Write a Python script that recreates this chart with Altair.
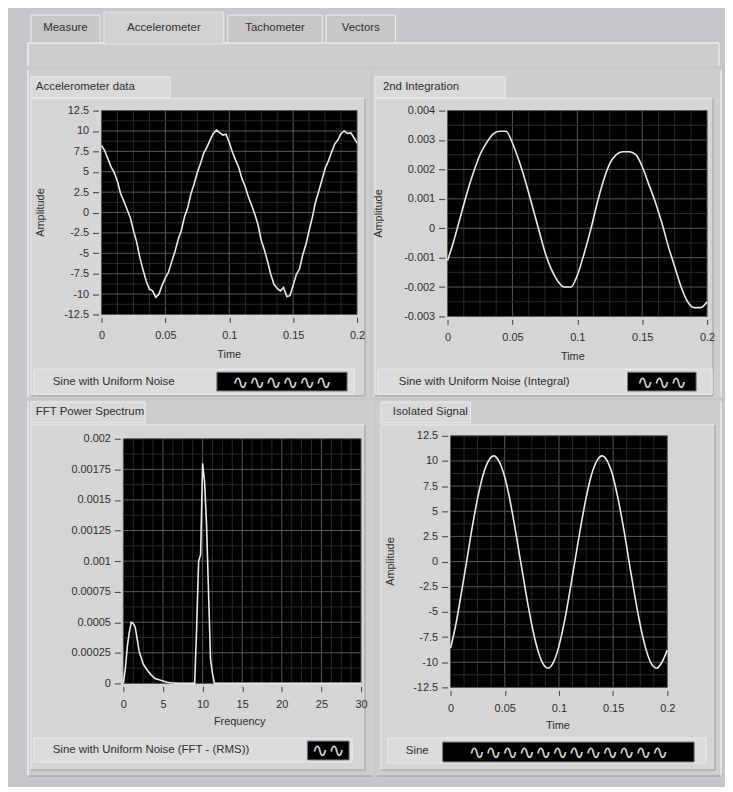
import altair as alt
import pandas as pd

# ------------------------------------------------------------------ data
tab_names = ["Measure", "Accelerometer", "Tachometer", "Vectors"]
selected_tab = "Accelerometer"

panel_titles = ["Accelerometer data", "2nd  Integration", "FFT Power Spectrum", "Isolated Signal"]
legend_names = ["Sine with Uniform Noise", "Sine with Uniform Noise (Integral)",
                "Sine with Uniform Noise (FFT - (RMS))", "Sine"]
x_titles = ["Time", "Time", "Frequency", "Time"]
y_titles = ["Amplitude", "Amplitude", "", "Amplitude"]

accel_time = [round(i * 0.0025, 4) for i in range(81)]
accel_amp = [8.2, 7.6, 6.6, 5.6, 4.9, 3.8, 2.3, 1.4, 0.4, -0.6,
             -2.2, -3.6, -5.5, -7.0, -8.4, -9.4, -9.6, -10.4, -10.0, -8.9,
             -8.0, -7.3, -6.0, -4.8, -3.3, -2.2, -0.5, 0.6, 2.3, 3.5,
             4.9, 6.0, 7.3, 8.0, 8.9, 9.7, 10.1, 9.8, 9.5, 9.6,
             8.6, 7.4, 6.4, 5.5, 4.1, 3.2, 1.9, 0.9, -0.2, -1.5,
             -3.4, -4.6, -6.0, -7.6, -8.8, -9.3, -9.6, -9.2, -10.3, -10.2,
             -8.9, -7.6, -6.9, -5.2, -3.9, -2.2, -0.6, 1.3, 2.6, 4.0,
             5.4, 6.3, 7.4, 8.4, 8.9, 9.7, 10.0, 9.7, 9.8, 9.2, 8.5]

integ_time = [round(i * 0.005, 4) for i in range(41)]
integ_amp = [-0.0011, -0.0004, 0.0004, 0.0012, 0.0019, 0.0025, 0.0029, 0.0032, 0.0033, 0.0033,
             0.0029, 0.0023, 0.0016, 0.0008, 0.0000, -0.0008, -0.0014, -0.0018, -0.0020, -0.0020,
             -0.0016, -0.0009, -0.0001, 0.0008, 0.0016, 0.0022, 0.0025, 0.0026, 0.0026, 0.0025,
             0.0021, 0.0015, 0.0009, 0.0002, -0.0006, -0.0013, -0.0020, -0.0025, -0.0027, -0.0027,
             -0.0025]

fft_freq = [0, 0.25, 0.5, 0.75, 1.0, 1.25, 1.5, 1.75, 2.0, 2.5, 3.0, 3.5, 4.0, 4.5, 5.0, 5.5, 6.0,
            7, 8, 9.0, 9.25, 9.5, 9.75, 10.0, 10.25, 10.5, 10.75, 11.0, 11.25, 11.5, 12, 15, 20, 25, 30]
fft_power = [0, 0.00012, 0.00030, 0.00042, 0.00050, 0.00049, 0.00046, 0.00036, 0.00026, 0.00016,
             0.00011, 0.00007, 0.00004, 0.00003, 0.00002, 0.00001, 0.000005, 0, 0, 0,
             0.00045, 0.00100, 0.00105, 0.00180, 0.00165, 0.00130, 0.00075, 0.00020, 0.00008, 0,
             0, 0, 0, 0, 0]

iso_time = [round(i * 0.005, 4) for i in range(41)]
iso_amp = [-8.6, -6.2, -3.1, 0.1, 3.4, 6.3, 8.6, 10.0, 10.5, 9.9,
           8.4, 6.0, 3.0, -0.2, -3.4, -6.3, -8.6, -10.1, -10.6, -10.0,
           -8.4, -6.0, -3.0, 0.2, 3.4, 6.3, 8.6, 10.0, 10.5, 9.9,
           8.4, 6.0, 3.1, -0.2, -3.4, -6.3, -8.6, -10.1, -10.6, -10.0, -8.8]

# ------------------------------------------------------------------ style
FONT = "Liberation Sans"
TXT = "#2e2e2e"
MAJ = "#4f5e4f"
MINOR = "#232d23"
BG = "#c6c5c9"
BODY = "#cdcdcd"
PANEL = "#d5d5d5"
LIGHT = "#ececec"
DARK = "#a9a9a9"

ONE = pd.DataFrame({"k": [0]})


def vrect(x, x2, y, y2, fill, stroke=None, opacity=1.0):
    props = dict(fill=fill, opacity=opacity)
    if stroke:
        props.update(stroke=stroke, strokeWidth=1)
    else:
        props.update(strokeWidth=0)
    return alt.Chart(ONE).mark_rect(**props).encode(
        x=alt.value(x), x2=alt.value(x2), y=alt.value(y), y2=alt.value(y2))


def vline(x, y, y2, color):
    return alt.Chart(ONE).mark_rule(color=color, strokeWidth=1.5).encode(
        x=alt.value(x), y=alt.value(y), y2=alt.value(y2))


def hline(x, x2, y, color):
    return alt.Chart(ONE).mark_rule(color=color, strokeWidth=1.5).encode(
        x=alt.value(x), x2=alt.value(x2), y=alt.value(y))


def vtext(text, x, y, align="left", angle=0, size=11.5):
    d = pd.DataFrame({"t": [text]})
    return alt.Chart(d).mark_text(align=align, baseline="middle", font=FONT, fontSize=size,
                                  color=TXT, angle=angle).encode(
        x=alt.value(x), y=alt.value(y), text="t:N")


def grid_frame(lo, hi, step, nsub, col):
    minor = step / nsub
    n = int(round((hi - lo) / minor))
    vals = [round(lo + k * minor, 10) for k in range(n + 1)]
    major = [abs(v / step - round(v / step)) < 1e-6 for v in vals]
    g = pd.DataFrame({col: vals, "major": major}).sort_values("major", kind="stable")
    return g, [v for v, m in zip(vals, major) if m]


def make_axis(values, is_x, off):
    return alt.Axis(
        values=values, labelExpr="replace(format(datum.value, '.6~g'), '\u2212', '-')",
        title="", grid=False, domain=False, offset=off, zindex=1,
        tickColor="#3a3a3a", tickSize=5 if is_x else 6, labelPadding=7 if is_x else 4,
        labelFont=FONT, labelFontSize=11, labelColor=TXT,
        labelFlush=False, labelOverlap=False,
    )


def panel(idx, x, y, xdom, xstep, xsub, ydom, ystep, ysub, interp, L):
    W, H = L["size"]
    px0, px1, py0, py1 = L["plot"]
    df = pd.DataFrame({"x": x, "y": y})
    gx, xmaj = grid_frame(xdom[0], xdom[1], xstep, xsub, "x")
    gy, ymaj = grid_frame(ydom[0], ydom[1], ystep, ysub, "y")
    xs = alt.Scale(domain=xdom, nice=False, zero=False, range=[px0, px1])
    ys = alt.Scale(domain=ydom, nice=False, zero=False, range=[py1, py0])
    # offsets move the axes from the view edge onto the plot rectangle
    xa = make_axis(xmaj, True, (py1 + 3) - H)
    ya = make_axis(ymaj, False, -(px0 - 3))
    gcol = alt.condition("datum.major", alt.value(MAJ), alt.value(MINOR))

    bx0, bx1, by0, by1 = L["body"]
    layers = [
        vrect(0, W, 0, H, fill="white", opacity=0),
        vrect(bx0, bx1, by0, by1, fill=BODY),
    ]
    for b in L.get("vborder", []):
        layers.append(vline(b, by0 + 1, by1 - 1, LIGHT))
    if "hborder" in L:
        layers.append(hline(bx0 + 1, bx1 - 1, L["hborder"], DARK))
    fx, fx2, fy, fy2 = L["frame"]
    tx, tx2, ty, ty2 = L["tbox"]
    layers += [
        vrect(fx, fx2, fy, fy2, fill=PANEL, stroke=LIGHT),
        hline(fx, fx2, fy2, DARK), vline(fx2, fy, fy2, DARK),
        vrect(tx, tx2, ty, ty2, fill="#d9d9d9", stroke=LIGHT),
        vrect(px0, px1, py0, py1, fill="black"),
        alt.Chart(gx).mark_rule(strokeWidth=1).encode(
            x=alt.X("x:Q", scale=xs, axis=xa), y=alt.value(py0), y2=alt.value(py1), color=gcol),
        alt.Chart(gy).mark_rule(strokeWidth=1).encode(
            y=alt.Y("y:Q", scale=ys, axis=ya), x=alt.value(px0), x2=alt.value(px1), color=gcol),
        alt.Chart(df).mark_line(color="#ebebeb", strokeWidth=1.6, interpolate=interp).encode(
            x=alt.X("x:Q", scale=xs, axis=xa), y=alt.Y("y:Q", scale=ys, axis=ya)),
        vtext(panel_titles[idx], L["title"][0], L["title"][1]),
        vtext(x_titles[idx], L["xtitle"][0], L["xtitle"][1], align="center", size=11),
    ]
    if y_titles[idx]:
        layers.append(vtext(y_titles[idx], L["ytitle"], (py0 + py1) / 2, align="center",
                            angle=270, size=11))
    lx, lx2, ly, ly2 = L["lstrip"]
    kx, kx2, ky, ky2 = L["lbox"]
    wave = pd.DataFrame({"t": ["\u223f" * L["waves"]]})
    layers += [
        vrect(lx, lx2, ly, ly2, fill="#dcdcdc", stroke=LIGHT),
        vrect(kx, kx2, ky, ky2, fill="black", stroke="#808080"),
        vtext(legend_names[idx], L["ltext"], (ly + ly2) / 2),
        alt.Chart(wave).mark_text(align="center", baseline="middle", font="DejaVu Sans",
                                  fontSize=20, color="#d6d6d6").encode(
            x=alt.value((kx + kx2) / 2), y=alt.value((ky + ky2) / 2 + 1), text="t:N"),
    ]
    return alt.layer(*layers).properties(width=W, height=H)


# ------------------------------------------------------------------ tab bar
tabs = pd.DataFrame({"name": tab_names})
tabs["w"] = tabs["name"].str.len() * 8.5 + 10
tabs["x"] = 22 + (tabs["w"] + 4).cumsum() - (tabs["w"] + 4)
tabs["x2"] = tabs["x"] + tabs["w"]
tabs["cx"] = (tabs["x"] + tabs["x2"]) / 2
tabs["sel"] = tabs["name"] == selected_tab
tabs["y"] = tabs["sel"].map({True: 1, False: 4})
tabs["y2"] = tabs["sel"].map({True: 33, False: 32})

tab_rects = alt.Chart(tabs).mark_rect(stroke=LIGHT, strokeWidth=1).encode(
    x=alt.X("x:Q", scale=None), x2="x2:Q",
    y=alt.Y("y:Q", scale=None), y2="y2:Q",
    fill=alt.condition("datum.sel", alt.value("#d2d2d2"), alt.value("#c7c7c7")),
)
tab_text = alt.Chart(tabs).mark_text(font=FONT, fontSize=11.5, color=TXT, baseline="middle").encode(
    x=alt.X("cx:Q", scale=None), y=alt.value(17), text="name:N")

TAB_H = 56
tab_chart = alt.layer(
    vrect(0, 717, 0, TAB_H, fill="white", opacity=0),
    vrect(19, 714, 32, TAB_H, fill=BODY),
    hline(19, 714, 32, LIGHT), vline(19, 32, TAB_H - 1, LIGHT), vline(714, 32, TAB_H - 1, LIGHT),
    tab_rects, tab_text,
).properties(width=717, height=TAB_H)

# ------------------------------------------------------------------ panels (cell-local px)
L1 = dict(size=(363, 331), plot=(93, 350, 42, 247), body=(19, 363, 0, 331), vborder=[19],
          frame=(22, 358, 30, 329), tbox=(22, 162, 8, 29), title=(27, 18),
          xtitle=(221.5, 288), ytitle=32, lstrip=(25, 347, 302, 327), lbox=(209, 340, 305, 324),
          ltext=44, waves=6)
L2 = dict(size=(354, 331), plot=(76, 337, 42, 249), body=(0, 351, 0, 331), vborder=[351],
          frame=(3, 343, 30, 329), tbox=(3, 134, 8, 29), title=(11, 18),
          xtitle=(202, 290), ytitle=7, lstrip=(6, 342, 302, 327), lbox=(257, 326, 305, 324),
          ltext=27, waves=3)
L3 = dict(size=(367, 386), plot=(115, 354, 39, 285), body=(19, 367, 0, 378), vborder=[19],
          hborder=378, frame=(22, 358, 25, 372), tbox=(22, 137, 2, 23), title=(27, 12),
          xtitle=(232, 324), ytitle=0, lstrip=(25, 345, 340, 364), lbox=(300, 342, 343, 362),
          ltext=44, waves=2)
L4 = dict(size=(350, 386), plot=(75, 293, 36, 289), body=(0, 347, 0, 378), vborder=[347],
          hborder=378, frame=(5, 341, 25, 372), tbox=(5, 95, 2, 23), title=(17, 12),
          xtitle=(183, 328), ytitle=15, lstrip=(12, 332, 340, 365), lbox=(67, 320, 344, 364),
          ltext=30, waves=12)

p1 = panel(0, accel_time, accel_amp, [0, 0.2], 0.05, 4, [-12.5, 12.5], 2.5, 2, "linear", L1)
p2 = panel(1, integ_time, integ_amp, [0, 0.2], 0.05, 4, [-0.003, 0.004], 0.001, 2, "monotone", L2)
p3 = panel(2, fft_freq, fft_power, [0, 30], 5, 4, [0, 0.002], 0.00025, 2, "linear", L3)
p4 = panel(3, iso_time, iso_amp, [0, 0.2], 0.05, 4, [-12.5, 12.5], 2.5, 2, "monotone", L4)

row1 = alt.hconcat(p1, p2, spacing=0)
row2 = alt.hconcat(p3, p4, spacing=0)

chart = alt.vconcat(tab_chart, row1, row2, spacing=0).properties(
    background=BG,
    padding={"left": 0, "top": 0, "right": 0, "bottom": 0},
).configure_view(stroke="transparent")

chart.save("out.html", embed_options={"renderer": "svg", "actions": False})
